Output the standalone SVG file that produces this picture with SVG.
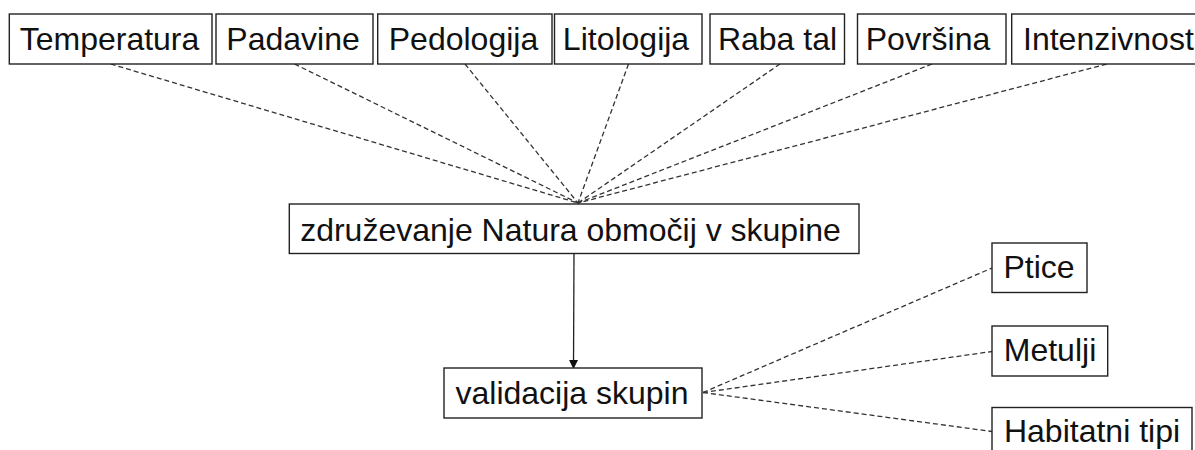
<svg xmlns="http://www.w3.org/2000/svg" width="1195" height="450" viewBox="0 0 1195 450">
<style>
.box{fill:#fff;stroke:#222;stroke-width:1.4}
.t{font-family:"Liberation Sans",Arial,sans-serif;font-size:32px;fill:#111;text-anchor:middle}
.d{stroke:#333;stroke-width:1.3;stroke-dasharray:5,3;fill:none}
.s{stroke:#222;stroke-width:1.3;fill:none}
</style>
<defs>
<marker id="ah" markerWidth="9" markerHeight="10" refX="8" refY="4.5" orient="auto" markerUnits="userSpaceOnUse">
<path d="M0,0 L9,4.5 L0,9 Z" fill="#111"/>
</marker>
</defs>
<rect width="1195" height="450" fill="#fff"/>
<g id="connectors">
<line class="d" x1="110.7" y1="64" x2="578" y2="203"/>
<line class="d" x1="294.5" y1="64" x2="578" y2="203"/>
<line class="d" x1="465" y1="64" x2="578" y2="203"/>
<line class="d" x1="628.5" y1="64" x2="578" y2="203"/>
<line class="d" x1="780" y1="64" x2="578" y2="203"/>
<line class="d" x1="932" y1="64" x2="578" y2="203"/>
<line class="d" x1="1106.7" y1="64" x2="578" y2="203"/>
<line class="s" x1="574" y1="253" x2="573.5" y2="368" marker-end="url(#ah)"/>
<line class="d" x1="703" y1="392.5" x2="992" y2="268"/>
<line class="d" x1="703" y1="392.5" x2="992" y2="351.5"/>
<line class="d" x1="703" y1="392.5" x2="992" y2="431.5"/>
</g>
<g id="n-temperatura"><rect class="box" x="9.3" y="14" width="202.7" height="50"/><text class="t" x="109.5" y="50">Temperatura</text></g>
<g id="n-padavine"><rect class="box" x="216" y="14" width="157" height="50"/><text class="t" x="293" y="50">Padavine</text></g>
<g id="n-pedologija"><rect class="box" x="377.7" y="14" width="174.3" height="50"/><text class="t" x="463.5" y="50">Pedologija</text></g>
<g id="n-litologija"><rect class="box" x="554.5" y="14" width="147.5" height="50"/><text class="t" x="626" y="50">Litologija</text></g>
<g id="n-rabatal"><rect class="box" x="710" y="14" width="134.5" height="50"/><text class="t" x="777.5" y="50">Raba tal</text></g>
<g id="n-povrsina"><rect class="box" x="857.5" y="14" width="148.5" height="50"/><text class="t" x="928" y="50">Površina</text></g>
<g id="n-intenzivnost"><rect class="box" x="1011.7" y="14" width="190" height="50"/><text class="t" x="1023" y="50" style="text-anchor:start">Intenzivnost</text></g>
<g id="n-zdruzevanje"><rect class="box" x="289.3" y="204" width="569.7" height="49.5"/><text class="t" x="570.5" y="240.5">združevanje Natura območij v skupine</text></g>
<g id="n-validacija"><rect class="box" x="444" y="368" width="258" height="50"/><text class="t" x="572" y="404">validacija skupin</text></g>
<g id="n-ptice"><rect class="box" x="992" y="243" width="95" height="49.5"/><text class="t" x="1039" y="277.5">Ptice</text></g>
<g id="n-metulji"><rect class="box" x="992" y="326" width="115.7" height="50"/><text class="t" x="1050" y="361">Metulji</text></g>
<g id="n-habitatni"><rect class="box" x="992" y="407.5" width="200" height="50"/><text class="t" x="1092" y="442">Habitatni tipi</text></g>
</svg>
